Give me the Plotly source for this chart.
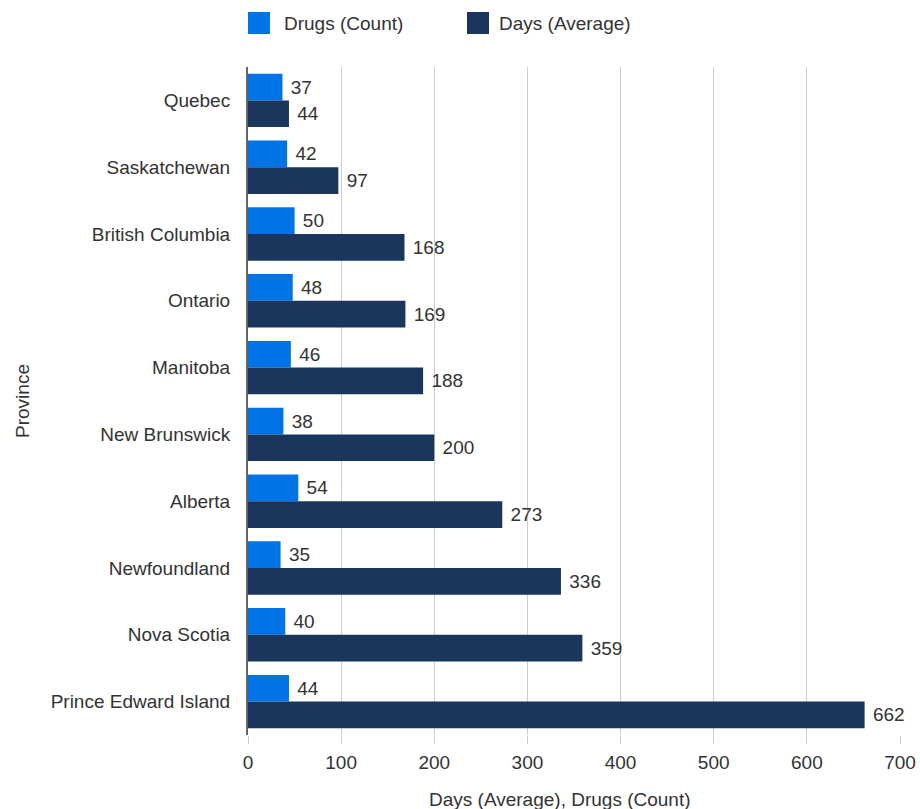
import plotly.graph_objects as go

provinces = ["Quebec", "Saskatchewan", "British Columbia", "Ontario", "Manitoba",
             "New Brunswick", "Alberta", "Newfoundland", "Nova Scotia", "Prince Edward Island"]
drugs_count = [37, 42, 50, 48, 46, 38, 54, 35, 40, 44]
days_average = [44, 97, 168, 169, 188, 200, 273, 336, 359, 662]
x_ticks = [0, 100, 200, 300, 400, 500, 600, 700]
series_names = ["Drugs (Count)", "Days (Average)"]

C_DRUGS = "#0073E6"
C_DAYS = "#1B365D"
FONT = "Liberation Sans, Arial, sans-serif"
TXT = "#333333"
FS = 19

W, H = 920, 809
ML, MR, MT, MB = 248, 20, 67, 74
PW, PH = W - ML - MR, H - MT - MB


def px_x(px):
    return (px - ML) / PW


def px_y(py):
    return (H - MB - py) / PH


fig = go.Figure()
fig.add_trace(go.Bar(
    y=provinces, x=drugs_count, orientation="h", name=series_names[0],
    marker=dict(color=C_DRUGS, line=dict(width=0)),
    text=drugs_count, texttemplate=" %{x}", textposition="outside",
    textfont=dict(size=FS, color=TXT, family=FONT), cliponaxis=False,
))
fig.add_trace(go.Bar(
    y=provinces, x=days_average, orientation="h", name=series_names[1],
    marker=dict(color=C_DAYS, line=dict(width=0)),
    text=days_average, texttemplate=" %{x}", textposition="outside",
    textfont=dict(size=FS, color=TXT, family=FONT), cliponaxis=False,
))

# custom legend (large square swatches)
shapes = []
annotations = []
for (sx, tx), name, col in zip([(248, 282), (467, 497)], series_names, [C_DRUGS, C_DAYS]):
    shapes.append(dict(type="rect", xref="paper", yref="paper",
                       x0=px_x(sx), x1=px_x(sx + 22), y0=px_y(34), y1=px_y(12),
                       fillcolor=col, line=dict(width=0)))
    annotations.append(dict(text=name, xref="paper", yref="paper", x=px_x(tx), y=px_y(23),
                            xanchor="left", yanchor="middle", showarrow=False,
                            font=dict(size=FS, color=TXT, family=FONT)))
# x axis title
annotations.append(dict(text="Days (Average), Drugs (Count)", xref="paper", yref="paper",
                        x=px_x(560), y=px_y(799), xanchor="center", yanchor="middle",
                        showarrow=False, font=dict(size=FS, color=TXT, family=FONT)))

fig.update_layout(
    width=W, height=H,
    margin=dict(l=ML, r=MR, t=MT, b=MB),
    paper_bgcolor="white", plot_bgcolor="white",
    barmode="group", bargap=0.2, bargroupgap=0,
    font=dict(family=FONT, size=FS, color=TXT),
    showlegend=False,
    shapes=shapes, annotations=annotations,
    xaxis=dict(
        range=[0, 700], tickvals=x_ticks, showgrid=True, gridcolor="#cccccc", gridwidth=1,
        zeroline=False, ticks="outside", ticklen=8, tickcolor="#cccccc",
        ticklabelstandoff=2, automargin=False,
        tickfont=dict(size=FS, color=TXT),
    ),
    yaxis=dict(
        categoryorder="array", categoryarray=provinces, autorange="reversed",
        showline=True, linecolor="#666666", linewidth=2, showgrid=False,
        ticks="", ticklabelstandoff=12, automargin=False,
        tickfont=dict(size=FS, color=TXT),
        title=dict(text="Province", font=dict(size=FS, color=TXT), standoff=16),
    ),
)
fig.write_html("out.html")
